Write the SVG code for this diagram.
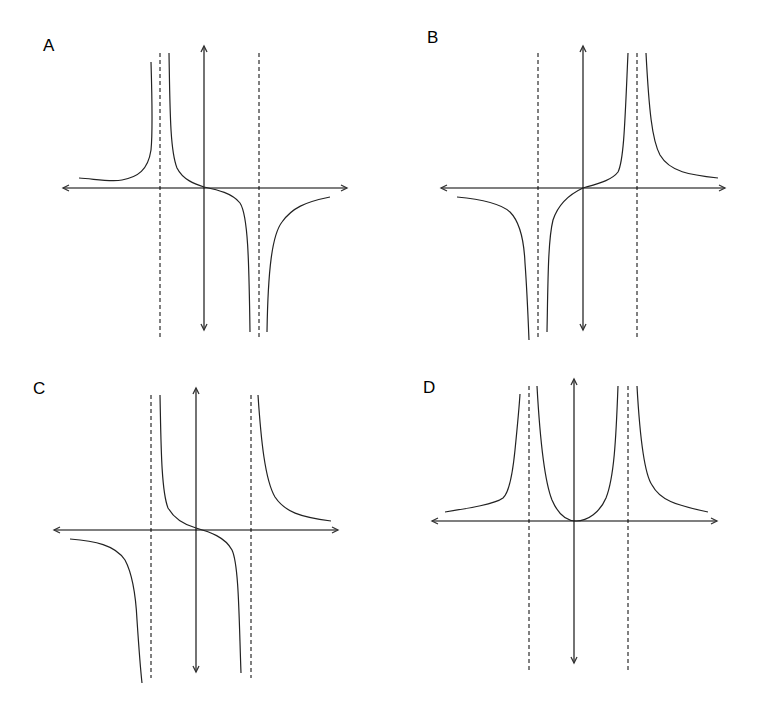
<svg xmlns="http://www.w3.org/2000/svg" width="771" height="718" viewBox="0 0 771 718">
<style>
.lbl{font-family:"Liberation Sans",Arial,sans-serif;font-size:17px;fill:#000}
.axis{stroke:#000;stroke-width:1.1;fill:none;marker-start:url(#arr);marker-end:url(#arr)}
.asym{stroke:#000;stroke-width:1;stroke-dasharray:4,3;fill:none}
.curve{stroke:#222;stroke-width:1.2;fill:none}
</style>
<defs>
<marker id="arr" markerUnits="userSpaceOnUse" markerWidth="10" markerHeight="10" viewBox="-8 -5 10 10" refX="0" refY="0" orient="auto-start-reverse">
<path d="M-6,-3 L0,0 L-6,3" fill="none" stroke="#333" stroke-width="1.3"/>
</marker>
</defs>
<rect width="771" height="718" fill="#fff"/>

<g id="panelA">
<text class="lbl" x="43" y="51">A</text>
<g id="connectorsA">
<line class="axis" x1="204" y1="330" x2="204" y2="46"/>
<line class="axis" x1="347" y1="188" x2="63" y2="188"/>
<line class="asym" x1="160" y1="53" x2="160" y2="337"/>
<line class="asym" x1="259" y1="53" x2="259" y2="337"/>
</g>
<path class="curve" d="M79,178 C95,179 110,182 122,180 C138,177 148,170 151,150 C153,130 152,95 151,62"/>
<path class="curve" d="M169,53 C170,110 170,150 177,168 C183,180 195,184 204,187 C218,190 232,193 240,203 C248,215 249,260 250,332"/>
<path class="curve" d="M267,332 C268,270 272,235 282,222 C292,208 305,202 330,197"/>
</g>

<g id="panelB">
<text class="lbl" x="427" y="43">B</text>
<g id="connectorsB">
<line class="axis" x1="583" y1="330" x2="583" y2="46"/>
<line class="axis" x1="725" y1="188" x2="441" y2="188"/>
<line class="asym" x1="538" y1="53" x2="538" y2="337"/>
<line class="asym" x1="637" y1="53" x2="637" y2="337"/>
</g>
<path class="curve" d="M457,197 C480,199 500,203 510,212 C520,222 524,240 525,263 C527,290 528,315 529,340"/>
<path class="curve" d="M547,332 C548,280 548,240 553,220 C558,205 570,194 583,188 C600,183 612,180 618,172 C624,160 625,120 628,53"/>
<path class="curve" d="M646,53 C649,110 652,140 660,155 C670,172 690,175 718,178"/>
</g>

<g id="panelC">
<text class="lbl" x="33" y="394">C</text>
<g id="connectorsC">
<line class="axis" x1="196" y1="672" x2="196" y2="388"/>
<line class="axis" x1="338" y1="530" x2="54" y2="530"/>
<line class="asym" x1="151" y1="395" x2="151" y2="678"/>
<line class="asym" x1="251" y1="395" x2="251" y2="678"/>
</g>
<path class="curve" d="M70,539 C95,541 115,545 125,560 C133,575 136,600 137,620 C139,650 140,665 142,683"/>
<path class="curve" d="M160,395 C161,440 161,490 168,508 C175,520 185,525 196,528 C210,532 225,537 232,550 C239,565 239,620 241,673"/>
<path class="curve" d="M258,395 C261,440 265,480 275,497 C285,512 300,517 331,521"/>
</g>

<g id="panelD">
<text class="lbl" x="423" y="393">D</text>
<g id="connectorsD">
<line class="axis" x1="574" y1="663" x2="574" y2="379"/>
<line class="axis" x1="717" y1="521" x2="432" y2="521"/>
<line class="asym" x1="529" y1="386" x2="529" y2="670"/>
<line class="asym" x1="628" y1="386" x2="628" y2="670"/>
</g>
<path class="curve" d="M445,512 C470,508 495,504 503,498 C510,492 513,470 515,450 C517,430 519,410 520,394"/>
<path class="curve" d="M537,386 C540,440 544,480 552,500 C558,514 566,521 576,521 C588,521 600,512 606,498 C614,478 616,440 618,386"/>
<path class="curve" d="M637,386 C640,440 645,475 652,485 C660,500 675,505 708,512"/>
</g>
</svg>
